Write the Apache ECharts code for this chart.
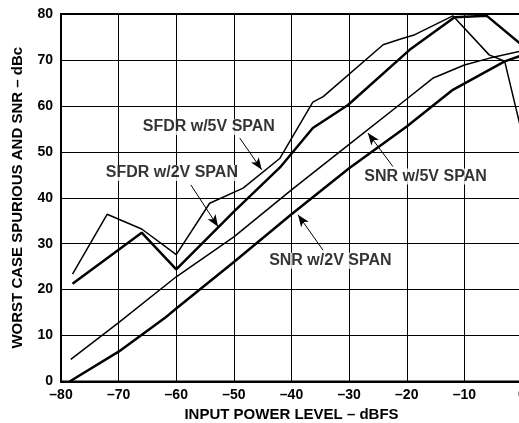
<!DOCTYPE html>
<html>
<head>
<meta charset="utf-8">
<script src="https://cdn.jsdelivr.net/npm/echarts@6/dist/echarts.min.js"></script>
<style>
  html, body { margin: 0; padding: 0; background: #fff; }
  #chart { width: 519px; height: 423px; }
</style>
</head>
<body>
<div id="chart"></div>
<script>
// curves (x = input level dBFS, y = dBc)
const sfdr5X = [-78, -72, -66, -60, -54.2, -48.4, -42, -36.3, -34.5, -24.1, -21.2, -18.6, -12, -5.7, -3, 0];
const sfdr5Y = [23.4, 36.4, 33.2, 27.6, 38.8, 42.1, 48.6, 60.8, 62.0, 73.3, 74.5, 75.5, 79.6, 71.1, 69.7, 54];

const sfdr2X = [-78, -66, -60, -50, -42, -36.3, -30.2, -19.5, -11.7, -6.1, 0];
const sfdr2Y = [21.3, 32.4, 24.4, 37.0, 46.6, 55.2, 60.2, 72.2, 79.3, 79.6, 73.2];

const snr5X = [-78.3, -70, -60, -50, -40, -30, -20, -15.5, -10, -5.6, 0];
const snr5Y = [4.8, 12.8, 22.8, 31.5, 41.7, 51.6, 61.5, 66.0, 68.9, 70.4, 72.0];

const snr2X = [-78.5, -70, -62, -60, -50, -40, -30, -20, -12, -3, 0];
const snr2Y = [0, 6.5, 13.8, 15.9, 26.0, 36.4, 46.4, 55.5, 63.5, 69.7, 71.0];

// annotation labels and their arrows (data coordinates)
const noteText = ['SFDR w/5V SPAN', 'SFDR w/2V SPAN', 'SNR w/5V SPAN', 'SNR w/2V SPAN'];
const noteX = [-54.35, -60.76, -16.74, -33.26];
const noteY = [55.4, 45.4, 44.6, 26.3];
const arrowFrom = [[-48.98, 53.0], [-57.47, 42.8], [-22.41, 46.8], [-34.54, 28.6]];
const arrowTo = [[-45.16, 46.1], [-52.74, 33.7], [-26.74, 54.1], [-38.87, 36.3]];

const font = 'Liberation Sans, Arial, Helvetica, sans-serif';
const zip = (xs, ys) => xs.map((x, i) => [x, ys[i]]);

const curve = (name, xs, ys, width) => ({
  name: name,
  type: 'line',
  data: zip(xs, ys),
  showSymbol: false,
  smooth: false,
  lineStyle: { color: '#000', width: width },
  itemStyle: { color: '#000' }
});

let myChart = echarts.init(document.getElementById('chart'));
myChart.setOption({
  animation: false,
  grid: {
    left: 61,
    right: -3,
    top: 14,
    bottom: 41.5,
    show: true,
    borderColor: '#000',
    borderWidth: 2,
    outerBoundsMode: 'none'
  },
  xAxis: {
    type: 'value',
    min: -80,
    max: 0,
    interval: 10,
    name: 'INPUT POWER LEVEL – dBFS',
    nameLocation: 'middle',
    nameGap: 24,
    nameTextStyle: { fontFamily: font, fontWeight: 'bold', fontSize: 15, color: '#000' },
    axisLine: { lineStyle: { color: '#000', width: 2 } },
    axisTick: { show: false },
    axisLabel: {
      margin: 7,
      fontFamily: font, fontWeight: 'bold', fontSize: 14, color: '#000',
      formatter: v => String(v).replace('-', '–')
    },
    splitLine: { show: true, lineStyle: { color: '#000', width: 1 } }
  },
  yAxis: {
    type: 'value',
    min: 0,
    max: 80,
    interval: 10,
    name: 'WORST CASE SPURIOUS AND SNR – dBc',
    nameLocation: 'middle',
    nameGap: 36,
    nameTextStyle: { fontFamily: font, fontWeight: 'bold', fontSize: 15, color: '#000' },
    axisLine: { show: true, lineStyle: { color: '#000', width: 2 } },
    axisTick: { show: false },
    axisLabel: { margin: 8, fontFamily: font, fontWeight: 'bold', fontSize: 14, color: '#000' },
    splitLine: { show: true, lineStyle: { color: '#000', width: 1 } }
  },
  series: [
    curve('SFDR w/5V SPAN', sfdr5X, sfdr5Y, 1.5),
    curve('SFDR w/2V SPAN', sfdr2X, sfdr2Y, 2.5),
    curve('SNR w/5V SPAN', snr5X, snr5Y, 1.5),
    curve('SNR w/2V SPAN', snr2X, snr2Y, 2.5),
    {
      name: 'notes',
      type: 'scatter',
      z: 5,
      symbolSize: 1,
      itemStyle: { color: 'transparent' },
      data: noteText.map((t, i) => [noteX[i], noteY[i], t]),
      label: {
        show: true,
        position: 'inside',
        formatter: p => p.data[2],
        fontFamily: font,
        fontWeight: 'bold',
        fontSize: 16,
        color: '#000',
        backgroundColor: '#fff',
        padding: [0, 1]
      },
      markLine: {
        silent: true,
        symbol: ['none', 'arrow'],
        symbolSize: [7, 12],
        label: { show: false },
        lineStyle: { color: '#000', width: 1, type: 'solid' },
        data: arrowFrom.map((f, i) => [{ coord: f }, { coord: arrowTo[i] }])
      }
    }
  ]
});
</script>
</body>
</html>
